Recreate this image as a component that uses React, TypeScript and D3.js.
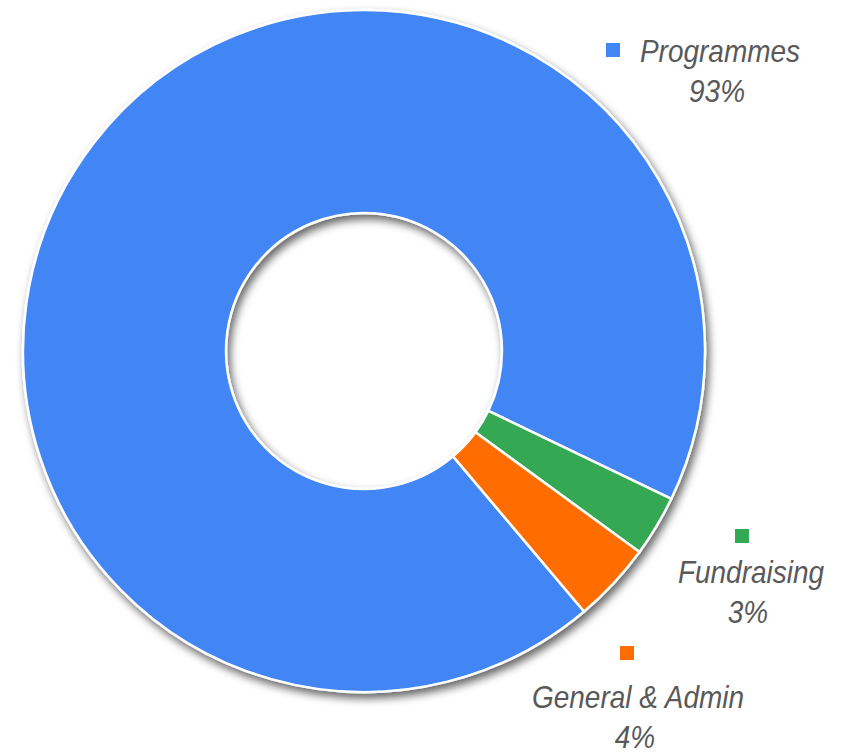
import React from "react";
import * as d3 from "d3";

const categories = ["Programmes", "Fundraising", "General & Admin"];
const values = [93.3, 2.9, 3.8];
const colors = ["#4285F4", "#34A853", "#FF6D01"];

// label anchor positions (layout)
const labelPos = [
  { mx: 613, my: 50, tx: 720, ty: 62 },
  { mx: 742, my: 536, tx: 751, ty: 583 },
  { mx: 627, my: 653, tx: 638, ty: 708 },
];

const W = 847;
const H = 752;
const cx = 364;
const cy = 351;
const outerR = 341;
const innerR = 138;

export default function App() {
  const total = d3.sum(values);
  const startDeg = 139.8;
  const pie = d3
    .pie<number>()
    .sort(null)
    .value((d) => d)
    .startAngle((startDeg * Math.PI) / 180)
    .endAngle(((startDeg + 360) * Math.PI) / 180);
  const arcs = pie(values);
  const arcGen = d3.arc<d3.PieArcDatum<number>>().innerRadius(innerR).outerRadius(outerR);
  const fmt = (v: number) => `${Math.round((v / total) * 100)}%`;
  const font = "'Liberation Sans', Arial, sans-serif";

  return (
    <svg
      width={W}
      height={H}
      style={{ position: "absolute", left: 0, top: 0, background: "#fff" }}
    >
      <defs>
        <filter id="shadow" x="-10%" y="-10%" width="120%" height="120%">
          <feDropShadow dx="3" dy="5" stdDeviation="4" floodColor="#000" floodOpacity="0.6" />
        </filter>
      </defs>
      <g transform={`translate(${cx},${cy})`} filter="url(#shadow)">
        {arcs.map((a, i) => (
          <path key={i} d={arcGen(a) || ""} fill={colors[i]} stroke="#fff" strokeWidth={2.5} />
        ))}
      </g>
      {categories.map((c, i) => {
        const p = labelPos[i];
        return (
          <g key={c} fontFamily={font} fontStyle="italic" fontSize={28} fill="#595959">
            <rect x={p.mx - 7} y={p.my - 7} width={14} height={14} fill={colors[i]} />
            <text transform={`translate(${p.tx},${p.ty}) scale(1,1.15)`} textAnchor="middle">
              {c}
            </text>
            <text transform={`translate(${p.tx - 3},${p.ty + 40}) scale(1,1.15)`} textAnchor="middle">
              {fmt(values[i])}
            </text>
          </g>
        );
      })}
    </svg>
  );
}
